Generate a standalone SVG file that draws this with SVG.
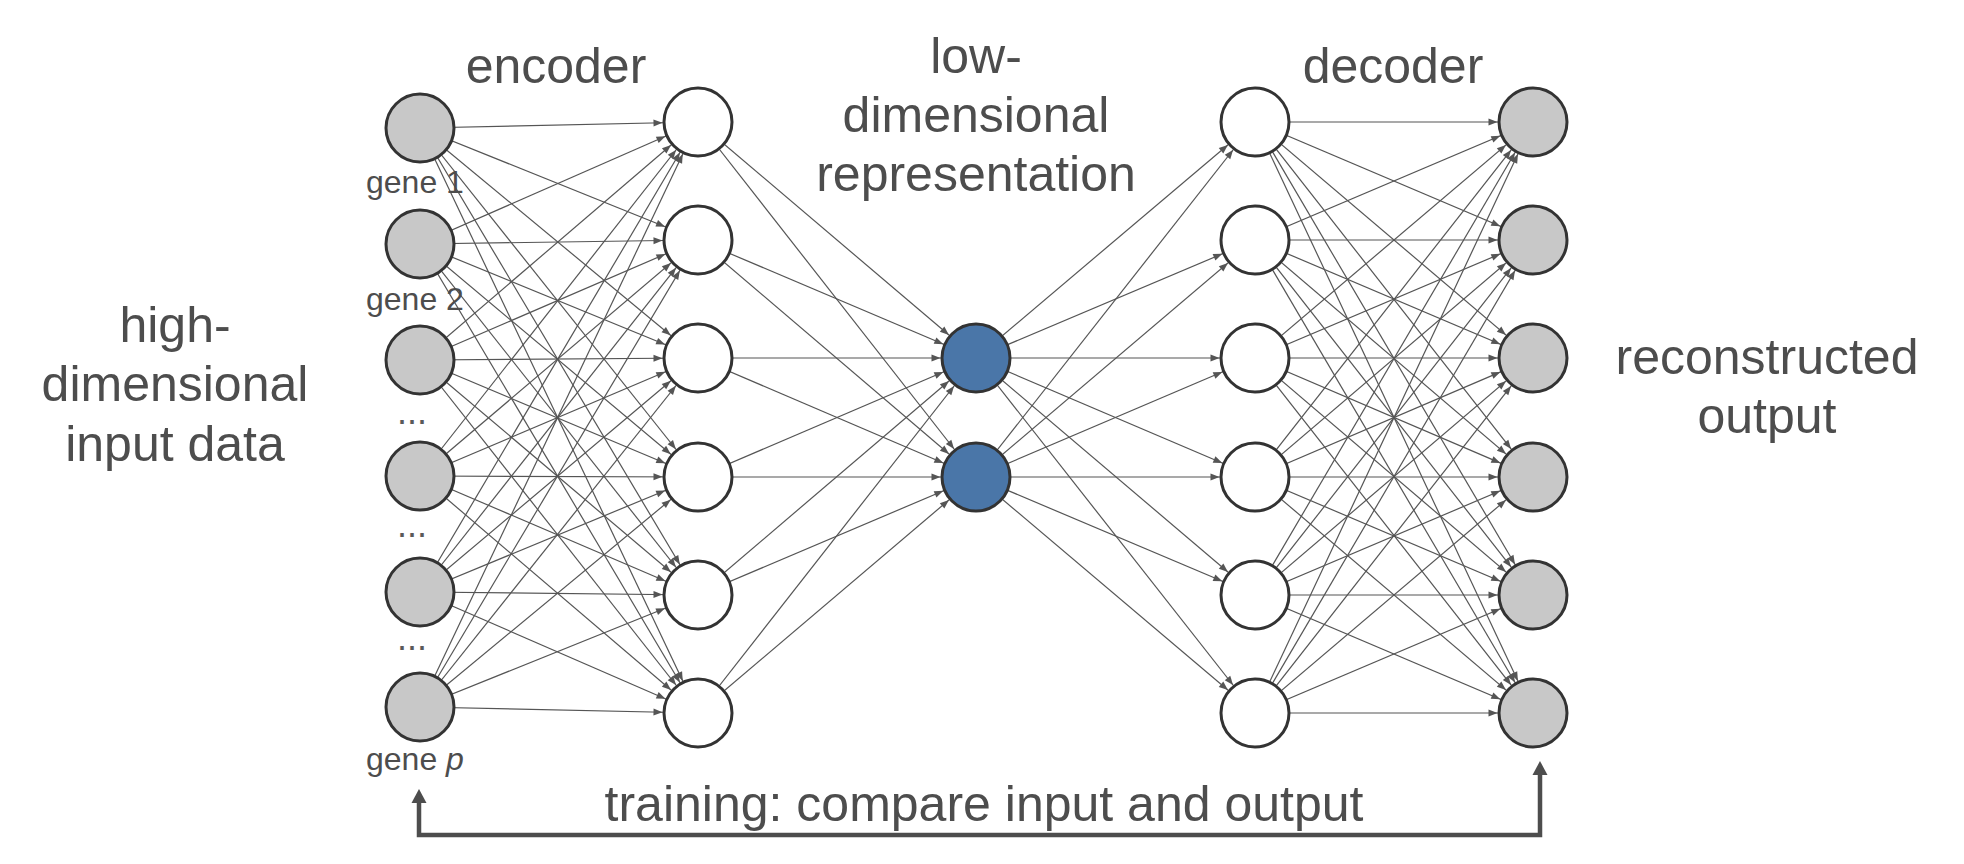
<svg xmlns="http://www.w3.org/2000/svg" width="1964" height="864" viewBox="0 0 1964 864">
<style>
.t{font-family:"Liberation Sans",Arial,sans-serif;fill:#4d4d4d;font-size:50px;text-anchor:middle}
.g{font-family:"Liberation Sans",Arial,sans-serif;fill:#4d4d4d;font-size:32px}
.d{font-family:"Liberation Sans",Arial,sans-serif;fill:#5a5a5a;font-size:36px;text-anchor:middle}
.c line{stroke:#555;stroke-width:1.2;marker-end:url(#a)}
.in,.out{fill:#c8c8c8;stroke:#333;stroke-width:3}
.hid{fill:#fff;stroke:#333;stroke-width:3}
.lat{fill:#4a76a8;stroke:#333;stroke-width:3}
</style>
<defs>
<marker id="a" markerUnits="userSpaceOnUse" markerWidth="60" markerHeight="10" refX="44.5" refY="3.5" orient="auto" overflow="visible"><path d="M0,0 L9,3.5 L0,7 z" fill="#555"/></marker>
<marker id="b" markerUnits="userSpaceOnUse" markerWidth="16" markerHeight="16" refX="1" refY="7.5" orient="auto-start-reverse" overflow="visible"><path d="M0,0 L14,7.5 L0,15 z" fill="#4d4d4d"/></marker>
</defs>
<rect width="1964" height="864" fill="#fff"/>
<g id="connectors" class="c">
<line x1="420" y1="128" x2="698" y2="122"/><line x1="420" y1="128" x2="698" y2="240"/><line x1="420" y1="128" x2="698" y2="358"/><line x1="420" y1="128" x2="698" y2="477"/><line x1="420" y1="128" x2="698" y2="595"/><line x1="420" y1="128" x2="698" y2="713"/>
<line x1="420" y1="244" x2="698" y2="122"/><line x1="420" y1="244" x2="698" y2="240"/><line x1="420" y1="244" x2="698" y2="358"/><line x1="420" y1="244" x2="698" y2="477"/><line x1="420" y1="244" x2="698" y2="595"/><line x1="420" y1="244" x2="698" y2="713"/>
<line x1="420" y1="360" x2="698" y2="122"/><line x1="420" y1="360" x2="698" y2="240"/><line x1="420" y1="360" x2="698" y2="358"/><line x1="420" y1="360" x2="698" y2="477"/><line x1="420" y1="360" x2="698" y2="595"/><line x1="420" y1="360" x2="698" y2="713"/>
<line x1="420" y1="476" x2="698" y2="122"/><line x1="420" y1="476" x2="698" y2="240"/><line x1="420" y1="476" x2="698" y2="358"/><line x1="420" y1="476" x2="698" y2="477"/><line x1="420" y1="476" x2="698" y2="595"/><line x1="420" y1="476" x2="698" y2="713"/>
<line x1="420" y1="592" x2="698" y2="122"/><line x1="420" y1="592" x2="698" y2="240"/><line x1="420" y1="592" x2="698" y2="358"/><line x1="420" y1="592" x2="698" y2="477"/><line x1="420" y1="592" x2="698" y2="595"/><line x1="420" y1="592" x2="698" y2="713"/>
<line x1="420" y1="707" x2="698" y2="122"/><line x1="420" y1="707" x2="698" y2="240"/><line x1="420" y1="707" x2="698" y2="358"/><line x1="420" y1="707" x2="698" y2="477"/><line x1="420" y1="707" x2="698" y2="595"/><line x1="420" y1="707" x2="698" y2="713"/>
<line x1="698" y1="122" x2="976" y2="358"/><line x1="698" y1="122" x2="976" y2="477"/>
<line x1="698" y1="240" x2="976" y2="358"/><line x1="698" y1="240" x2="976" y2="477"/>
<line x1="698" y1="358" x2="976" y2="358"/><line x1="698" y1="358" x2="976" y2="477"/>
<line x1="698" y1="477" x2="976" y2="358"/><line x1="698" y1="477" x2="976" y2="477"/>
<line x1="698" y1="595" x2="976" y2="358"/><line x1="698" y1="595" x2="976" y2="477"/>
<line x1="698" y1="713" x2="976" y2="358"/><line x1="698" y1="713" x2="976" y2="477"/>
<line x1="976" y1="358" x2="1255" y2="122"/><line x1="976" y1="358" x2="1255" y2="240"/><line x1="976" y1="358" x2="1255" y2="358"/><line x1="976" y1="358" x2="1255" y2="477"/><line x1="976" y1="358" x2="1255" y2="595"/><line x1="976" y1="358" x2="1255" y2="713"/>
<line x1="976" y1="477" x2="1255" y2="122"/><line x1="976" y1="477" x2="1255" y2="240"/><line x1="976" y1="477" x2="1255" y2="358"/><line x1="976" y1="477" x2="1255" y2="477"/><line x1="976" y1="477" x2="1255" y2="595"/><line x1="976" y1="477" x2="1255" y2="713"/>
<line x1="1255" y1="122" x2="1533" y2="122"/><line x1="1255" y1="122" x2="1533" y2="240"/><line x1="1255" y1="122" x2="1533" y2="358"/><line x1="1255" y1="122" x2="1533" y2="477"/><line x1="1255" y1="122" x2="1533" y2="595"/><line x1="1255" y1="122" x2="1533" y2="713"/>
<line x1="1255" y1="240" x2="1533" y2="122"/><line x1="1255" y1="240" x2="1533" y2="240"/><line x1="1255" y1="240" x2="1533" y2="358"/><line x1="1255" y1="240" x2="1533" y2="477"/><line x1="1255" y1="240" x2="1533" y2="595"/><line x1="1255" y1="240" x2="1533" y2="713"/>
<line x1="1255" y1="358" x2="1533" y2="122"/><line x1="1255" y1="358" x2="1533" y2="240"/><line x1="1255" y1="358" x2="1533" y2="358"/><line x1="1255" y1="358" x2="1533" y2="477"/><line x1="1255" y1="358" x2="1533" y2="595"/><line x1="1255" y1="358" x2="1533" y2="713"/>
<line x1="1255" y1="477" x2="1533" y2="122"/><line x1="1255" y1="477" x2="1533" y2="240"/><line x1="1255" y1="477" x2="1533" y2="358"/><line x1="1255" y1="477" x2="1533" y2="477"/><line x1="1255" y1="477" x2="1533" y2="595"/><line x1="1255" y1="477" x2="1533" y2="713"/>
<line x1="1255" y1="595" x2="1533" y2="122"/><line x1="1255" y1="595" x2="1533" y2="240"/><line x1="1255" y1="595" x2="1533" y2="358"/><line x1="1255" y1="595" x2="1533" y2="477"/><line x1="1255" y1="595" x2="1533" y2="595"/><line x1="1255" y1="595" x2="1533" y2="713"/>
<line x1="1255" y1="713" x2="1533" y2="122"/><line x1="1255" y1="713" x2="1533" y2="240"/><line x1="1255" y1="713" x2="1533" y2="358"/><line x1="1255" y1="713" x2="1533" y2="477"/><line x1="1255" y1="713" x2="1533" y2="595"/><line x1="1255" y1="713" x2="1533" y2="713"/>
</g>
<g id="feedback">
<path d="M419,802 V835 H1540 V774" fill="none" stroke="#4d4d4d" stroke-width="4.5" marker-start="url(#b)" marker-end="url(#b)"/>
</g>
<g id="input-layer">
<circle id="in1" class="in" cx="420" cy="128" r="34"/>
<circle id="in2" class="in" cx="420" cy="244" r="34"/>
<circle id="in3" class="in" cx="420" cy="360" r="34"/>
<circle id="in4" class="in" cx="420" cy="476" r="34"/>
<circle id="in5" class="in" cx="420" cy="592" r="34"/>
<circle id="in6" class="in" cx="420" cy="707" r="34"/>
</g>
<g id="encoder-layer">
<circle id="enc1" class="hid" cx="698" cy="122" r="34"/>
<circle id="enc2" class="hid" cx="698" cy="240" r="34"/>
<circle id="enc3" class="hid" cx="698" cy="358" r="34"/>
<circle id="enc4" class="hid" cx="698" cy="477" r="34"/>
<circle id="enc5" class="hid" cx="698" cy="595" r="34"/>
<circle id="enc6" class="hid" cx="698" cy="713" r="34"/>
</g>
<g id="latent-layer">
<circle id="lat1" class="lat" cx="976" cy="358" r="34"/>
<circle id="lat2" class="lat" cx="976" cy="477" r="34"/>
</g>
<g id="decoder-layer">
<circle id="dec1" class="hid" cx="1255" cy="122" r="34"/>
<circle id="dec2" class="hid" cx="1255" cy="240" r="34"/>
<circle id="dec3" class="hid" cx="1255" cy="358" r="34"/>
<circle id="dec4" class="hid" cx="1255" cy="477" r="34"/>
<circle id="dec5" class="hid" cx="1255" cy="595" r="34"/>
<circle id="dec6" class="hid" cx="1255" cy="713" r="34"/>
</g>
<g id="output-layer">
<circle id="out1" class="out" cx="1533" cy="122" r="34"/>
<circle id="out2" class="out" cx="1533" cy="240" r="34"/>
<circle id="out3" class="out" cx="1533" cy="358" r="34"/>
<circle id="out4" class="out" cx="1533" cy="477" r="34"/>
<circle id="out5" class="out" cx="1533" cy="595" r="34"/>
<circle id="out6" class="out" cx="1533" cy="713" r="34"/>
</g>
<g id="labels">
<text class="t" x="556" y="83">encoder</text>
<text class="t" x="976" y="73">low-</text>
<text class="t" x="976" y="132">dimensional</text>
<text class="t" x="976" y="191">representation</text>
<text class="t" x="1393" y="83">decoder</text>
<text class="t" x="175" y="342">high-</text>
<text class="t" x="175" y="401">dimensional</text>
<text class="t" x="175" y="461">input data</text>
<text class="t" x="1767" y="374">reconstructed</text>
<text class="t" x="1767" y="433">output</text>
<text class="t" x="984" y="821">training: compare input and output</text>
<text class="g" x="366" y="193">gene 1</text>
<text class="g" x="366" y="310">gene 2</text>
<text class="g" x="366" y="770">gene <tspan font-style="italic">p</tspan></text>
<text class="d" x="412" y="424">...</text>
<text class="d" x="412" y="537">...</text>
<text class="d" x="412" y="650">...</text>
</g>
</svg>
